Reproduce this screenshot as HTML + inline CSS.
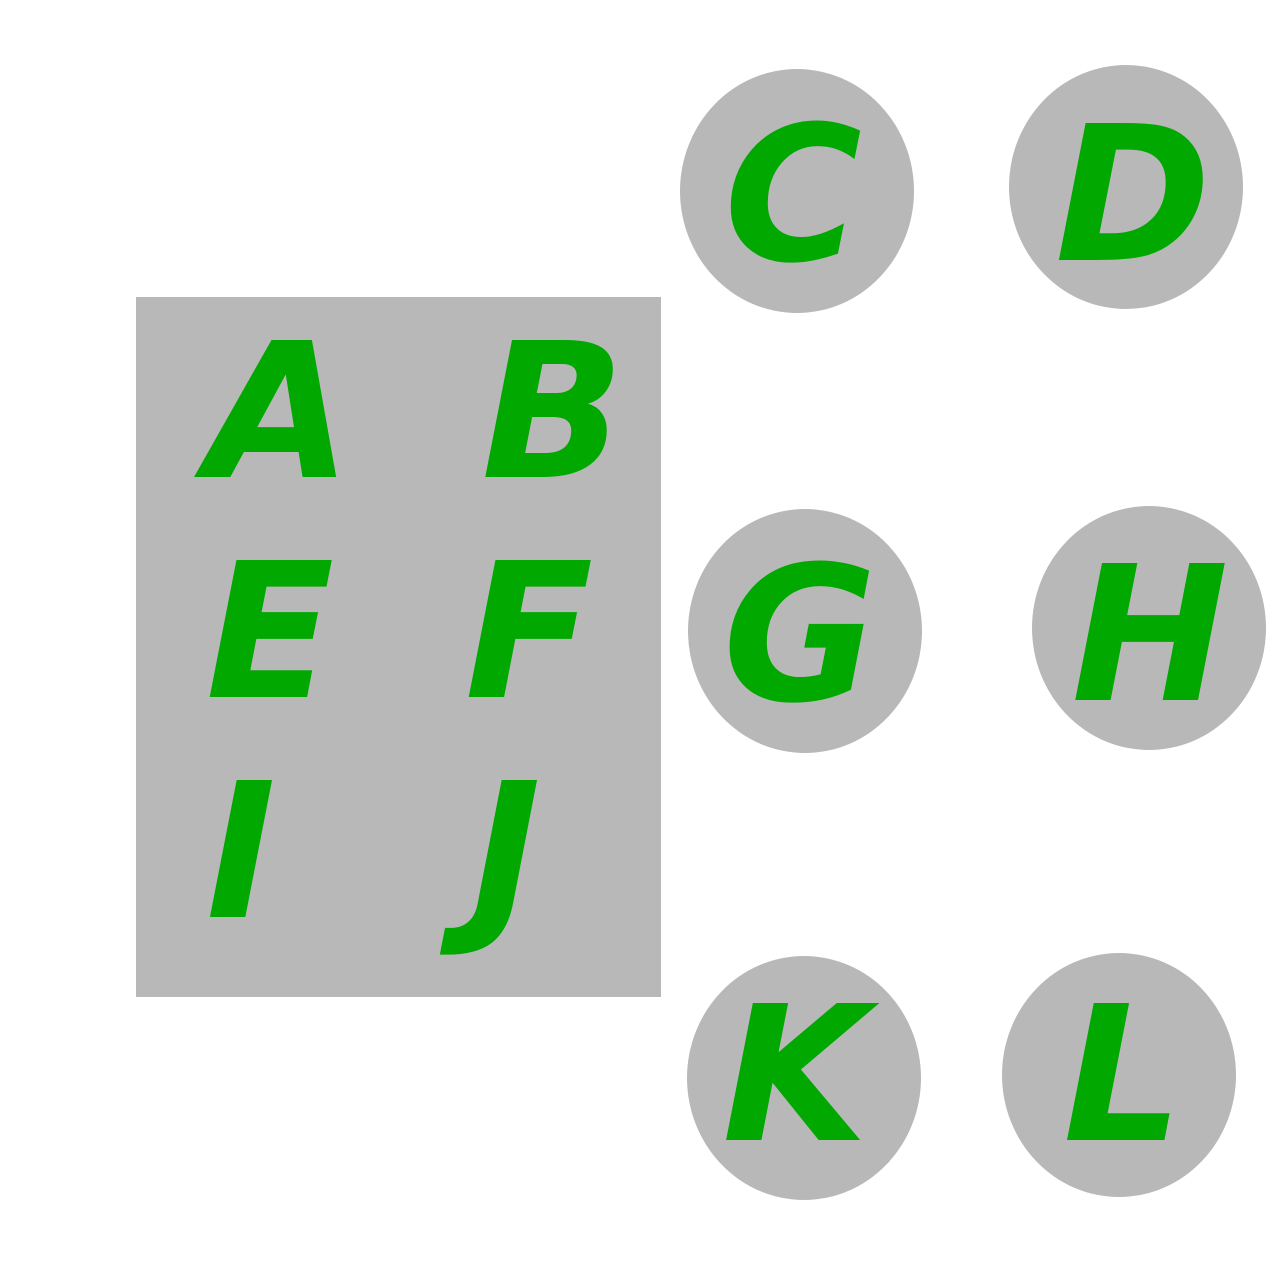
<!DOCTYPE html>
<html><head><meta charset="utf-8"><style>
html,body{margin:0;padding:0;background:#fff;width:1280px;height:1280px;overflow:hidden}
svg text{font-family:"DejaVu Sans","Liberation Sans",sans-serif;font-weight:bold;font-style:oblique;font-size:188px;fill:#00a800;text-anchor:middle}
</style></head><body>
<svg width="1280" height="1280" viewBox="0 0 1280 1280">
<rect x="136" y="297" width="525" height="700" fill="#b8b8b8"/>
<text x="279" y="477">A</text>
<text x="553" y="477">B</text>
<text x="270" y="697">E</text>
<text x="529" y="697">F</text>
<text x="241" y="917">I</text>
<text x="506" y="917">J</text>
<ellipse cx="797" cy="191" rx="117" ry="122" fill="#b8b8b8"/>
<text x="793" y="260">C</text>
<ellipse cx="1126" cy="187" rx="117" ry="122" fill="#b8b8b8"/>
<text x="1133" y="260">D</text>
<ellipse cx="805" cy="631" rx="117" ry="122" fill="#b8b8b8"/>
<text x="800" y="700">G</text>
<ellipse cx="1149" cy="628" rx="117" ry="122" fill="#b8b8b8"/>
<text x="1150" y="700">H</text>
<ellipse cx="804" cy="1078" rx="117" ry="122" fill="#b8b8b8"/>
<text x="795" y="1140">K</text>
<ellipse cx="1119" cy="1075" rx="117" ry="122" fill="#b8b8b8"/>
<text x="1123" y="1140">L</text>
</svg>
</body></html>
